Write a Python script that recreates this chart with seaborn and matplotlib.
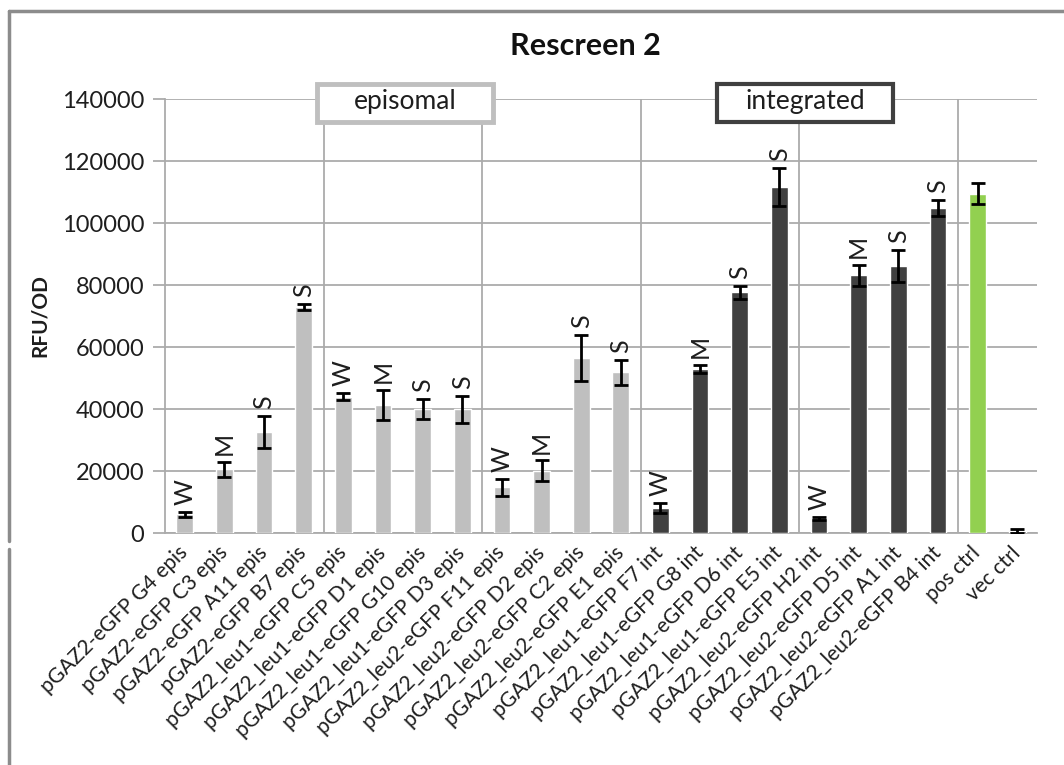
import numpy as np
import pandas as pd
import matplotlib
matplotlib.use("Agg")
import matplotlib.pyplot as plt
from matplotlib.patches import Rectangle
from matplotlib.lines import Line2D
from matplotlib.ticker import FixedLocator
import seaborn as sns

# ---------------- data ----------------
labels = [
    "pGAZ2-eGFP G4 epis", "pGAZ2-eGFP C3 epis", "pGAZ2-eGFP A11 epis", "pGAZ2-eGFP B7 epis",
    "pGAZ2_leu1-eGFP C5 epis", "pGAZ2_leu1-eGFP D1 epis", "pGAZ2_leu1-eGFP G10 epis", "pGAZ2_leu1-eGFP D3 epis",
    "pGAZ2_leu2-eGFP F11 epis", "pGAZ2_leu2-eGFP D2 epis", "pGAZ2_leu2-eGFP C2 epis", "pGAZ2_leu2-eGFP E1 epis",
    "pGAZ2_leu1-eGFP F7 int", "pGAZ2_leu1-eGFP G8 int", "pGAZ2_leu1-eGFP D6 int", "pGAZ2_leu1-eGFP E5 int",
    "pGAZ2_leu2-eGFP H2 int", "pGAZ2_leu2-eGFP D5 int", "pGAZ2_leu2-eGFP A1 int", "pGAZ2_leu2-eGFP B4 int",
    "pos ctrl", "vec ctrl",
]
values = [6000, 20500, 32500, 73000, 44000, 41200, 39900, 39900,
          14700, 20100, 56500, 51900, 8100, 52900, 77600, 111700,
          4700, 83200, 86200, 104800, 109500, 700]
errors = [800, 2400, 5200, 1000, 1200, 4800, 3200, 4300,
          2700, 3300, 7500, 4000, 1600, 1300, 2200, 6200,
          500, 3400, 5200, 2500, 3300, 700]
ratings = ["W", "M", "S", "S", "W", "M", "S", "S",
           "W", "M", "S", "S", "W", "M", "S", "S",
           "W", "M", "S", "S", "", ""]
groups = ["episomal"] * 12 + ["integrated"] * 8 + ["pos ctrl", "vec ctrl"]
palette = {"episomal": "#BFBFBF", "integrated": "#404040",
           "pos ctrl": "#92D050", "vec ctrl": "#404040"}
group_size = 4
yticks = [0, 20000, 40000, 60000, 80000, 100000, 120000, 140000]

df = pd.DataFrame({"label": labels, "value": values, "group": groups})

# ---------------- style ----------------
sns.set_style("white")
plt.rcParams["font.family"] = ["Lato", "DejaVu Sans"]

W, H = 1064, 765
fig = plt.figure(figsize=(W / 100, H / 100), dpi=100)
ax = fig.add_axes([165 / W, 1 - 533 / H, 872 / W, 434 / H])

grid_c = "#ABABAB"
txt_c = "#1E1E1E"

sns.barplot(data=df, x="label", y="value", hue="group", palette=palette,
            dodge=False, width=0.42, legend=False, errorbar=None,
            saturation=1, ax=ax, zorder=3)

pos = np.arange(len(labels))
ax.errorbar(pos, values, yerr=errors, fmt="none", ecolor="black",
            elinewidth=2, capsize=5, capthick=2, zorder=4)

for i, (v, e, r) in enumerate(zip(values, errors, ratings)):
    if r:
        ax.annotate(r, (i, v + e), xytext=(0, 5), textcoords="offset points",
                    rotation=90, ha="center", va="bottom", fontsize=18,
                    color=txt_c, zorder=5)

# axes limits, ticks
ax.set_xlim(-0.5, len(labels) - 0.5)
ax.set_ylim(yticks[0], yticks[-1])
ax.set_yticks(yticks)
ax.set_yticklabels([str(t) for t in yticks], fontsize=17, color=txt_c)
ax.yaxis.grid(True, color=grid_c, lw=1.3, zorder=0)
ax.set_axisbelow(True)

# vertical gridlines every group of 4 categories
for b in np.arange(group_size - 0.5, len(labels) - 1, group_size):
    ax.axvline(b, color=grid_c, lw=1.3, zorder=1)

ax.set_xticks(pos)
ax.set_xticklabels(labels, rotation=45, ha="right", va="center",
                   rotation_mode="anchor", fontsize=15, color=txt_c)
ax.xaxis.set_minor_locator(FixedLocator(np.arange(-0.5, len(labels), 1.0)))
ax.tick_params(axis="x", which="major", length=0, pad=12)
ax.tick_params(axis="x", which="minor", length=8, width=1.3, color=grid_c, direction="out")
ax.tick_params(axis="y", which="major", length=9, width=1.3, color=grid_c,
               direction="out", pad=6, left=True)

for s in ["top", "right"]:
    ax.spines[s].set_visible(False)
for s in ["left", "bottom"]:
    ax.spines[s].set_color(grid_c)
    ax.spines[s].set_linewidth(1.3)

ax.set_xlabel("")
ax.set_ylabel("RFU/OD", fontsize=15, fontweight="bold", color=txt_c)
ax.yaxis.set_label_coords((50 - 165) / 872, 0.5)

# group boxes
box_w = 176 / 872
box_y0 = (533 - 122) / 434
box_h = 38 / 434
for x0, txt, ec, lw in [((317 - 165) / 872, "episomal", "#BFBFBF", 3.5),
                        ((717 - 165) / 872, "integrated", "#404040", 3.0)]:
    ax.add_patch(Rectangle((x0, box_y0), box_w, box_h, transform=ax.transAxes,
                           facecolor="white", edgecolor=ec, lw=lw,
                           clip_on=False, zorder=6))
    ax.text(x0 + box_w / 2, box_y0 + box_h / 2 + 0.003, txt, transform=ax.transAxes,
            ha="center", va="center", fontsize=19, color=txt_c, zorder=7)

# title
fig.text(585 / W, 1 - 46 / H, "Rescreen 2", ha="center", va="center",
         fontsize=22, fontweight="bold", color="#111111")

# outer chart frame
fc = "#8C8C8C"
fig.add_artist(Line2D([9 / W, 9 / W], [1 - 11 / H, 1 - 541 / H], color=fc, lw=2.5))
fig.add_artist(Line2D([9 / W, 9 / W], [1 - 549 / H, 0], color=fc, lw=2.5))
fig.add_artist(Line2D([9 / W, 1], [1 - 11 / H, 1 - 11 / H], color=fc, lw=2.5))

fig.savefig("out.png", dpi=100)
